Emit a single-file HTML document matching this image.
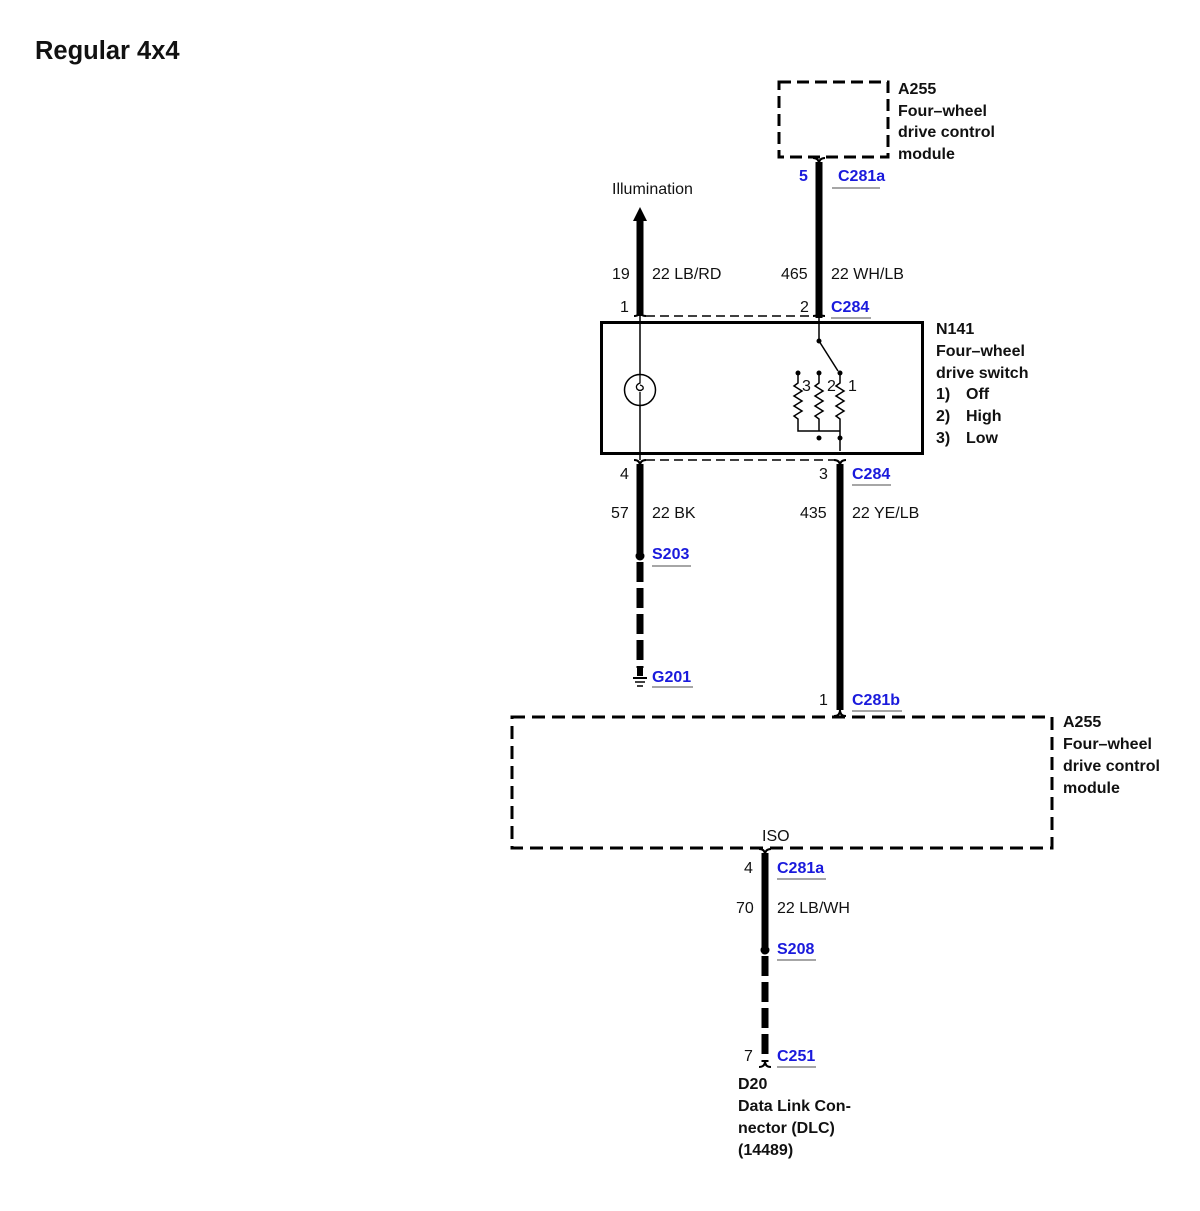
<!DOCTYPE html>
<html><head><meta charset="utf-8"><style>
html,body{margin:0;padding:0;background:#fff;}
svg{display:block;}
text{font-family:"Liberation Sans",Arial,sans-serif;font-size:16px;fill:#111;}
.b{font-weight:bold;}
.bl{fill:#1a1adc;font-weight:bold;}
</style></head><body>
<svg width="1200" height="1211" viewBox="0 0 1200 1211" xmlns="http://www.w3.org/2000/svg">
<text x="35" y="59" class="b" style="font-size:25.5px">Regular 4x4</text>

<rect x="779" y="82" width="109" height="75" fill="none" stroke="#000" stroke-width="3" stroke-dasharray="12,6"/>
<text x="898" y="94" class="b">A255</text>
<text x="898" y="116" class="b">Four–wheel</text>
<text x="898" y="137" class="b">drive control</text>
<text x="898" y="159" class="b">module</text>
<path d="M813,158 q6,0 6,6 q0,-6 6,-6" fill="none" stroke="#000" stroke-width="2"/>
<line x1="819" y1="162" x2="819" y2="318" stroke="#000" stroke-width="7"/>
<text x="799" y="181" class="bl">5</text>
<text x="838" y="181" class="bl">C281a</text>
<line x1="832" y1="188" x2="880" y2="188" stroke="#888" stroke-width="1.5"/>

<text x="612" y="194">Illumination</text>
<polygon points="640,207 633,221 647,221" fill="#000"/>
<line x1="640" y1="219" x2="640" y2="316" stroke="#000" stroke-width="7"/>
<text x="612" y="279">19</text>
<text x="652" y="279">22 LB/RD</text>
<text x="781" y="279">465</text>
<text x="831" y="279">22 WH/LB</text>
<text x="620" y="312">1</text>
<text x="800" y="312">2</text>
<text x="831" y="312" class="bl">C284</text>
<line x1="831" y1="318" x2="871" y2="318" stroke="#888" stroke-width="1.5"/>
<path d="M634,316 q6,0 6,-6 q0,6 6,6 M813,316 q6,0 6,-6 q0,6 6,6" fill="none" stroke="#000" stroke-width="2"/>
<line x1="646" y1="316" x2="813" y2="316" stroke="#000" stroke-width="1.5" stroke-dasharray="9,5"/>

<rect x="601.5" y="322.5" width="321" height="131" fill="none" stroke="#000" stroke-width="3"/>
<text x="936" y="334" class="b">N141</text>
<text x="936" y="356" class="b">Four–wheel</text>
<text x="936" y="378" class="b">drive switch</text>
<text x="936" y="399" class="b">1)</text><text x="966" y="399" class="b">Off</text>
<text x="936" y="421" class="b">2)</text><text x="966" y="421" class="b">High</text>
<text x="936" y="443" class="b">3)</text><text x="966" y="443" class="b">Low</text>

<line x1="640" y1="316" x2="640" y2="460" stroke="#000" stroke-width="1.5"/>
<circle cx="640" cy="390" r="15.5" fill="#fff" stroke="#000" stroke-width="1.5"/>
<path d="M640,374 v9 q-5,2 -3,6 q3,3 6,0 q1,-3 -3,-4 M640,392 v14" fill="none" stroke="#000" stroke-width="1.3"/>

<line x1="819" y1="318" x2="819" y2="341" stroke="#000" stroke-width="1.5"/>
<circle cx="819" cy="341" r="2.5"/>
<line x1="819" y1="341" x2="838" y2="371" stroke="#000" stroke-width="1.5"/>
<circle cx="798" cy="373" r="2.5"/><circle cx="819" cy="373" r="2.5"/><circle cx="840" cy="373" r="2.5"/>
<g fill="none" stroke="#000" stroke-width="1.5">
<path d="M798,373 v10 l-4,3 l8,5 l-8,5 l8,5 l-8,5 l8,5 l-8,5 l4,3 v12 h42"/>
<path d="M819,373 v10 l-4,3 l8,5 l-8,5 l8,5 l-8,5 l8,5 l-8,5 l4,3 v12"/>
<path d="M840,373 v10 l-4,3 l8,5 l-8,5 l8,5 l-8,5 l8,5 l-8,5 l4,3 v32"/>
</g>
<circle cx="819" cy="438" r="2.5"/><circle cx="840" cy="438" r="2.5"/>
<text x="802" y="391" style="font-size:16px">3</text>
<text x="827" y="391" style="font-size:16px">2</text>
<text x="848" y="391" style="font-size:16px">1</text>

<path d="M634,460 q6,0 6,6 q0,-6 6,-6 M834,460 q6,0 6,6 q0,-6 6,-6" fill="none" stroke="#000" stroke-width="2"/>
<line x1="646" y1="460" x2="834" y2="460" stroke="#000" stroke-width="1.5" stroke-dasharray="9,5"/>
<text x="620" y="479">4</text>
<text x="819" y="479">3</text>
<text x="852" y="479" class="bl">C284</text>
<line x1="852" y1="485" x2="891" y2="485" stroke="#888" stroke-width="1.5"/>

<line x1="640" y1="464" x2="640" y2="553" stroke="#000" stroke-width="7"/>
<circle cx="640" cy="556" r="4.5"/>
<line x1="640" y1="562" x2="640" y2="668" stroke="#000" stroke-width="7" stroke-dasharray="20,6"/>
<line x1="640" y1="668" x2="640" y2="676" stroke="#000" stroke-width="6"/>
<line x1="633" y1="678" x2="647" y2="678" stroke="#000" stroke-width="2"/>
<line x1="635" y1="682" x2="645" y2="682" stroke="#000" stroke-width="1.5"/>
<line x1="637" y1="686" x2="643" y2="686" stroke="#000" stroke-width="1.5"/>
<text x="611" y="518">57</text>
<text x="652" y="518">22 BK</text>
<text x="800" y="518">435</text>
<text x="852" y="518">22 YE/LB</text>
<text x="652" y="559" class="bl">S203</text>
<line x1="652" y1="566" x2="691" y2="566" stroke="#888" stroke-width="1.5"/>
<text x="652" y="682" class="bl">G201</text>
<line x1="652" y1="687" x2="693" y2="687" stroke="#888" stroke-width="1.5"/>

<line x1="840" y1="464" x2="840" y2="710" stroke="#000" stroke-width="7"/>
<path d="M834,716 q6,0 6,-6 q0,6 6,6" fill="none" stroke="#000" stroke-width="2"/>
<text x="819" y="705">1</text>
<text x="852" y="705" class="bl">C281b</text>
<line x1="852" y1="711" x2="902" y2="711" stroke="#888" stroke-width="1.5"/>

<rect x="512" y="717" width="540" height="131" fill="none" stroke="#000" stroke-width="3" stroke-dasharray="13,7"/>
<text x="1063" y="727" class="b">A255</text>
<text x="1063" y="749" class="b">Four–wheel</text>
<text x="1063" y="771" class="b">drive control</text>
<text x="1063" y="793" class="b">module</text>
<text x="762" y="841">ISO</text>

<path d="M759,849 q6,0 6,6 q0,-6 6,-6" fill="none" stroke="#000" stroke-width="2"/>
<line x1="765" y1="853" x2="765" y2="947" stroke="#000" stroke-width="7"/>
<circle cx="765" cy="950" r="4.5"/>
<line x1="765" y1="956" x2="765" y2="1062" stroke="#000" stroke-width="7" stroke-dasharray="20,6"/>
<path d="M759,1067 q6,0 6,-6 q0,6 6,6" fill="none" stroke="#000" stroke-width="2"/>
<text x="744" y="873">4</text>
<text x="777" y="873" class="bl">C281a</text>
<line x1="777" y1="879" x2="826" y2="879" stroke="#888" stroke-width="1.5"/>
<text x="736" y="913">70</text>
<text x="777" y="913">22 LB/WH</text>
<text x="777" y="954" class="bl">S208</text>
<line x1="777" y1="960" x2="816" y2="960" stroke="#888" stroke-width="1.5"/>
<text x="744" y="1061">7</text>
<text x="777" y="1061" class="bl">C251</text>
<line x1="777" y1="1067" x2="816" y2="1067" stroke="#888" stroke-width="1.5"/>
<text x="738" y="1089" class="b">D20</text>
<text x="738" y="1111" class="b">Data Link Con-</text>
<text x="738" y="1133" class="b">nector (DLC)</text>
<text x="738" y="1155" class="b">(14489)</text>
</svg>
</body></html>
